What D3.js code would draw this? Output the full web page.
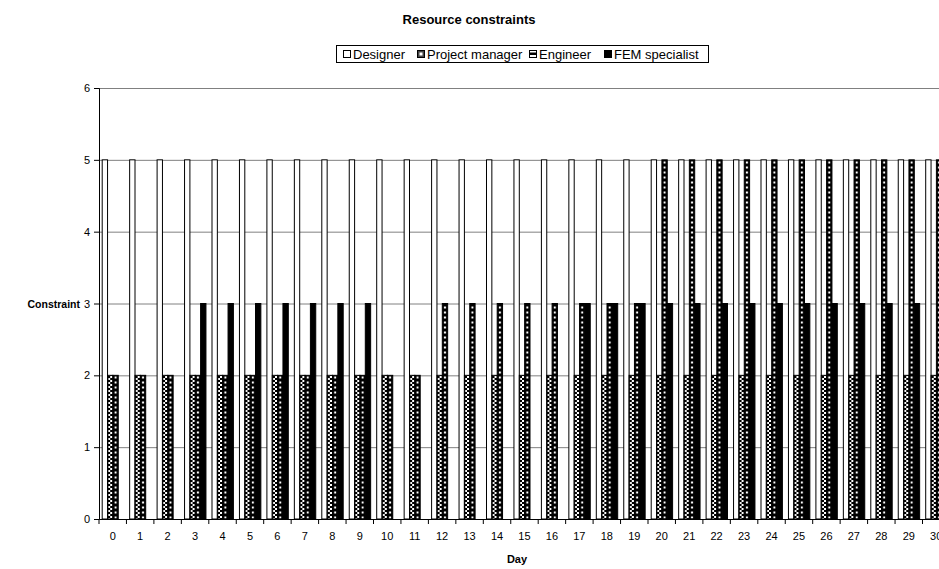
<!DOCTYPE html>
<html><head><meta charset="utf-8">
<script src="https://cdn.jsdelivr.net/npm/d3@7"></script>
<style>
body{margin:0;background:#fff;}
text{font-family:"Liberation Sans",Arial,sans-serif;fill:#000;}
</style></head>
<body><svg id="c" width="939" height="569"></svg>
<script>
const days = d3.range(0, 31).map(String);
const seriesNames = ["Designer", "Project manager", "Engineer", "FEM specialist"];
const designer = [5,5,5,5,5,5,5,5,5,5,5,5,5,5,5,5,5,5,5,5,5,5,5,5,5,5,5,5,5,5,5];
const projectManager = [2,2,2,2,2,2,2,2,2,2,2,2,2,2,2,2,2,2,2,2,2,2,2,2,2,2,2,2,2,2,2];
const engineer = [2,2,2,2,2,2,2,2,2,2,2,2,3,3,3,3,3,3,3,3,5,5,5,5,5,5,5,5,5,5,5];
const femSpecialist = [0,0,0,3,3,3,3,3,3,3,0,0,0,0,0,0,0,3,3,3,3,3,3,3,3,3,3,3,3,3,3];
const yTicks = [0,1,2,3,4,5,6];

(function(){
const svg = d3.select("#c");
const plotLeft = 99, bw = 27.45, plotTop = 88, plotBottom = 519;
const x = d3.scaleBand().domain(days).range([plotLeft, plotLeft + bw*days.length]).padding(0);
const xs = d3.scaleBand().domain(seriesNames).range([3.2, 24.6]).padding(0);
const y = d3.scaleLinear().domain([0,6]).range([plotBottom, plotTop]);
const w = xs.bandwidth();

const defs = svg.append("defs");
function pmPattern(id, ox, oy){
  const p = defs.append("pattern").attr("id",id).attr("patternUnits","userSpaceOnUse")
    .attr("x",ox).attr("y",oy).attr("width",w).attr("height",4);
  p.append("rect").attr("width",w+1).attr("height",4).attr("fill","#fff");
  p.append("rect").attr("x",0).attr("y",0).attr("width",w/2).attr("height",2).attr("fill","#000");
  p.append("rect").attr("x",w/2).attr("y",2).attr("width",w/2).attr("height",2).attr("fill","#000");
  p.append("rect").attr("x",0).attr("y",2).attr("width",1).attr("height",2).attr("fill","#444");
}
function engPattern(id, ox, oy){
  const p = defs.append("pattern").attr("id",id).attr("patternUnits","userSpaceOnUse")
    .attr("x",ox).attr("y",oy).attr("width",w).attr("height",5);
  p.append("rect").attr("width",w+1).attr("height",5).attr("fill","#000");
  p.append("rect").attr("x",w/2-1).attr("y",1.5).attr("width",2).attr("height",2).attr("fill","#fff");
}
pmPattern("pm", xs("Project manager"), 0);
engPattern("eng", xs("Engineer"), 0);

const fills = ["#fff","url(#pm)","url(#eng)","#000"];
const values = [designer, projectManager, engineer, femSpecialist];

svg.append("g").selectAll("line").data(yTicks.filter(d=>d>0)).join("line")
  .attr("x1", plotLeft).attr("x2", x.range()[1])
  .attr("y1", d=>y(d)+0.5).attr("y2", d=>y(d)+0.5)
  .attr("stroke","#808080").attr("stroke-width",1);

const groups = svg.append("g").selectAll("g").data(days).join("g")
  .attr("transform", d=>`translate(${x(d)},0)`);
groups.selectAll("rect").data((d,i)=>seriesNames.map((s,k)=>({s,k,v:values[k][i]})).filter(e=>e.v>0)).join("rect")
  .attr("x", e=>xs(e.s)).attr("width", w)
  .attr("y", e=>y(e.v)).attr("height", e=>y(0)-y(e.v))
  .attr("fill", e=>fills[e.k]).attr("stroke","#000").attr("stroke-width",1);

const ya = svg.append("g").attr("transform",`translate(${plotLeft},0)`)
  .call(d3.axisLeft(y).tickValues(yTicks).tickSize(5).tickPadding(4).tickFormat(d3.format("d")));
ya.select(".domain").attr("stroke","#000");
ya.selectAll("text").style("font-size","11px");

const xa = svg.append("g").attr("transform",`translate(0,${plotBottom})`)
  .call(d3.axisBottom(x).tickSize(0).tickPadding(13));
xa.select(".domain").attr("stroke","#000");
xa.selectAll("text").style("font-size","11px");
svg.append("g").selectAll("line").data(days).join("line")
  .attr("x1", d=>x(d)).attr("x2", d=>x(d)).attr("y1", plotBottom).attr("y2", plotBottom+5)
  .attr("stroke","#000");

svg.append("text").attr("x",469).attr("y",24).attr("text-anchor","middle")
  .style("font-size","13px").style("font-weight","bold").text("Resource constraints");
svg.append("text").attr("x",517).attr("y",563).attr("text-anchor","middle")
  .style("font-size","11px").style("font-weight","bold").text("Day");
svg.append("text").attr("x",80).attr("y",y(3)+4).attr("text-anchor","end")
  .style("font-size","10.5px").style("font-weight","bold").text("Constraint");

const lg = svg.append("g");
lg.append("rect").attr("x",336.5).attr("y",45.5).attr("width",372).attr("height",17)
  .attr("fill","#fff").attr("stroke","#000");
const legX = [343, 417, 529, 604];
seriesNames.forEach((s,k)=>{
  lg.append("rect").attr("x",legX[k]+0.5).attr("y",50.5).attr("width",7).attr("height",7)
    .attr("fill", k===3 ? "#000" : (k===1 ? "#444" : "#fff")).attr("stroke","#000");
  if (k===1) lg.append("rect").attr("x",legX[k]+2.5).attr("y",52.5).attr("width",3).attr("height",3)
    .attr("fill","#fff").attr("stroke","none");
  if (k===2) lg.append("rect").attr("x",legX[k]+0.5).attr("y",52.5).attr("width",7).attr("height",2.5)
    .attr("fill","#000");
  lg.append("text").attr("x",legX[k]+10).attr("y",59).style("font-size","13px").text(s);
});
})();
</script></body></html>
